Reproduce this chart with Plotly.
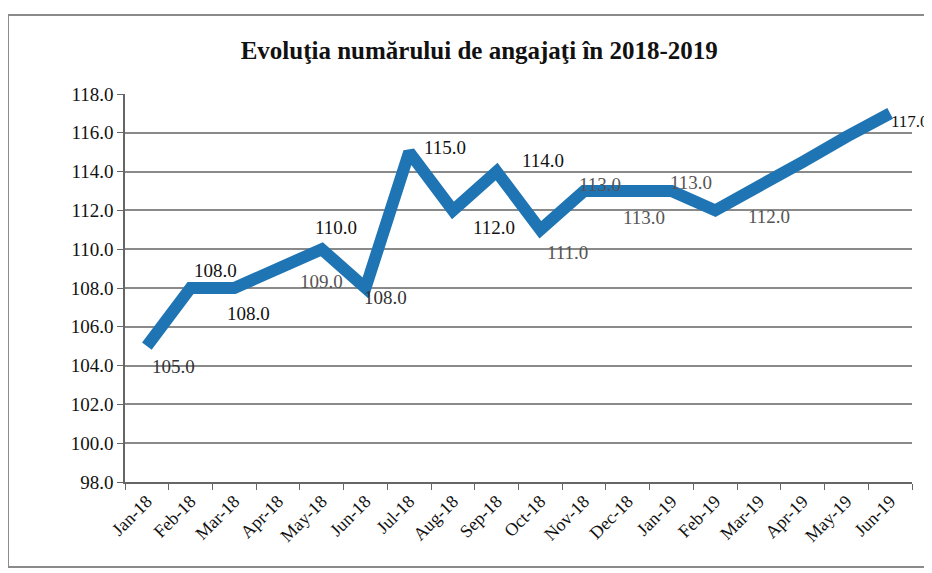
import plotly.graph_objects as go

months = ["Jan-18", "Feb-18", "Mar-18", "Apr-18", "May-18", "Jun-18", "Jul-18", "Aug-18",
          "Sep-18", "Oct-18", "Nov-18", "Dec-18", "Jan-19", "Feb-19", "Mar-19", "Apr-19",
          "May-19", "Jun-19"]
employees = [105, 108, 108, 109, 110, 108, 115, 112, 114, 111, 113, 113, 113, 112,
             113.2, 114.5, 115.8, 117]
show_label = [True, True, True, True, True, True, True, True, True, True, True, True, True, True,
              False, False, False, True]
y_ticks = [98, 100, 102, 104, 106, 108, 110, 112, 114, 116, 118]

# label offsets in pixels (styling)
label_dx = [27, 25, 14, 43, 14, 20, 36, 41, 46, 27, 16, 16, 19, 54, 0, 0, 0, 20]
label_dy = [-20, 18, -25, -13, 22, -9, 5, -17, 11, -23, 7, -26, 9, -6, 0, 0, 0, -8]
label_col = ["#333", "#111", "#111", "#555", "#111", "#333", "#111", "#111", "#111",
             "#555", "#555", "#555", "#555", "#555", "#555", "#555", "#555", "#111"]

FONT = "Liberation Serif"

fig = go.Figure()
fig.add_trace(go.Scatter(
    x=months, y=employees, mode="lines",
    line=dict(color="#1F74B4", width=12),
    hoverinfo="x+y", showlegend=False,
))

for i, (m, v) in enumerate(zip(months, employees)):
    if not show_label[i]:
        continue
    last = i == len(months) - 1
    fig.add_annotation(x=m, y=v, text=f"{v:.1f}", showarrow=False,
                       xshift=label_dx[i], yshift=label_dy[i],
                       font=dict(family=FONT, size=19 if not last else 17, color=label_col[i]))

fig.update_layout(
    width=924, height=565,
    margin=dict(l=117, r=20, t=86, b=91),
    paper_bgcolor="white", plot_bgcolor="white",
    title=dict(text="<b>Evoluţia numărului de angajaţi în 2018-2019</b>",
               x=0.51, xanchor="center", y=0.926, yanchor="middle",
               font=dict(family=FONT, size=25, color="#111")),
    xaxis=dict(type="category", categoryorder="array", categoryarray=months,
               tickson="boundaries", ticks="outside", ticklen=6, tickcolor="#666",
               showline=True, linecolor="#666", linewidth=1.5,
               showgrid=False, tickangle=-45,
               tickfont=dict(family=FONT, size=18, color="#111"),
               range=[-0.5, len(months) - 0.5]),
    yaxis=dict(range=[98, 118], tickvals=y_ticks,
               ticktext=[f"{t:.1f}" for t in y_ticks],
               ticks="outside", ticklen=6, tickcolor="#666",
               showline=True, linecolor="#666", linewidth=1.5,
               showgrid=True, gridcolor="#8a8a8a", gridwidth=1.5,
               zeroline=False,
               tickfont=dict(family=FONT, size=19, color="#111")),
)

# outer frame of the scanned chart
fig.add_shape(type="rect", xref="paper", yref="paper",
              x0=-0.1487, x1=1.1, y0=-0.219, y1=1.2036,
              line=dict(color="#8a8a8a", width=2), layer="below")

fig.write_html("out.html")
